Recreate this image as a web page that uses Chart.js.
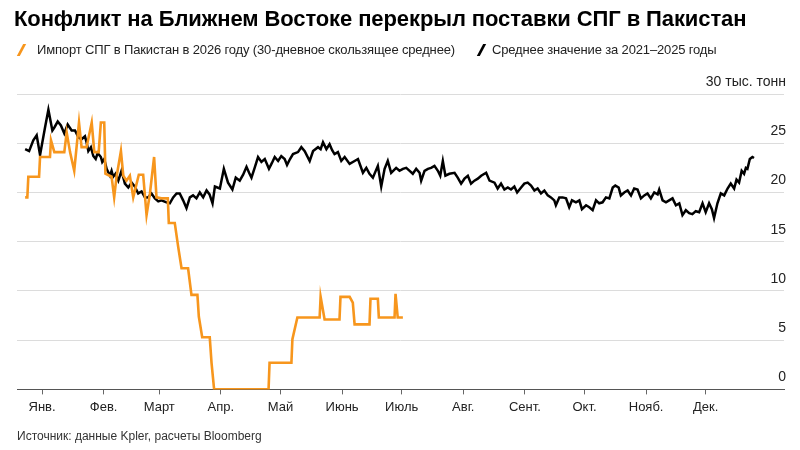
<!DOCTYPE html>
<html>
<head>
<meta charset="utf-8">
<script src="https://cdn.jsdelivr.net/npm/chart.js@4.4.1/dist/chart.umd.min.js"></script>
<style>
  body { margin:0; background:#fff; font-family:'Liberation Sans', Arial, sans-serif; }
  #wrap { position:relative; width:800px; height:450px; overflow:hidden; }
  #c { position:absolute; left:0; top:0; }
  .txt { position:absolute; white-space:nowrap; color:#222; }
  #title { left:14px; top:6px; font-weight:bold; font-size:22px; letter-spacing:-0.1px; color:#000; }
  .leg { top:42px; font-size:13px; letter-spacing:-0.15px; }
  .mark { position:absolute; top:44px; width:3px; height:12px; transform:skewX(-28deg); }
  #source { left:17px; top:429px; font-size:12px; color:#333; }
</style>
</head>
<body>
<div id="wrap">
  <canvas id="c" width="800" height="450"></canvas>
  <div id="title" class="txt">Конфликт на Ближнем Востоке перекрыл поставки СПГ в Пакистан</div>
  <span class="mark" style="left:20px;background:#f7961d"></span>
  <div class="txt leg" style="left:37px">Импорт СПГ в Пакистан в 2026 году (30-дневное скользящее среднее)</div>
  <span class="mark" style="left:480px;background:#000"></span>
  <div class="txt leg" style="left:492px">Среднее значение за 2021–2025 годы</div>
  <div id="source" class="txt">Источник: данные Kpler, расчеты Bloomberg</div>
</div>
<script>
// подписи месяцев и их первые дни (день 0 = 1 января)
var monthLabels = ['Янв.','Фев.','Март','Апр.','Май','Июнь','Июль','Авг.','Сент.','Окт.','Нояб.','Дек.'];
var monthStartDays = [0,31,59,90,120,151,181,212,243,273,304,334];
var yTicks = [0,5,10,15,20,25,30];

// импорт СПГ в 2026 г., тыс. тонн (30-дн. скользящее)
var importDays = [-8.5,-7.4,-6.9,-1.5,-1,4,4.5,6.2,11.2,12.4,14.1,16.2,18.6,19.9,22.4,25,26.3,28.5,29.6,31.3,31.9,35,36.3,37.5,39.7,40.9,42.5,44.2,45.9,48.7,50.9,52.6,54.3,56.4,57.6,60.1,62.7,63.3,63.8,66.8,68.5,70.2,73.5,75.2,78.2,78.9,80.6,84.4,85.3,86.6,114,114.5,125.5,126,128.5,139.7,140.2,142.2,149.7,150.2,154.8,156.4,157.3,164.8,165.3,169,169.5,177.4,177.9,179,181.6];
var importValues = [19.5,19.5,21.6,21.6,23.6,23.6,25.3,24.1,24.1,26.1,24.1,22.2,27.1,24.6,24.6,27.1,24.1,24.1,27.1,27.1,21.9,21.6,19.5,21.6,24.2,21.7,21.2,21.7,19.5,21.8,21.8,17.7,19.9,23.6,19.5,19.4,19.4,19.4,16.9,16.9,14.5,12.3,12.3,9.6,9.6,7.4,5.3,5.3,2.7,0,0,2.7,2.7,5.1,7.3,7.3,9.4,7.1,7.1,9.4,9.4,8.8,6.6,6.6,9.2,9.2,7.3,7.3,9.7,7.3,7.3];

// среднее за 2021-2025
var avgDays = [-8.5,-6.5,-4.4,-2.7,-1,1.5,3.2,5.2,6.2,7.9,9.5,11.2,12.9,14.9,16.6,18.3,19.9,21.6,22.4,23.3,24.6,25.8,27,28,29.6,30.3,31.3,32.5,34.2,35,35.8,37,38.4,40,41.7,43.4,45.1,46.7,48.4,50.1,51.8,53.4,55.1,56.8,58.5,60.1,62.6,64.3,66,67.7,69.3,71,72.7,74.4,76,77.7,79.4,81.1,82.8,84.3,85.8,87,89.5,91.5,93.6,95.8,97.5,99.5,101.2,102.9,104.2,105.4,107,108.7,110.4,112.1,114.2,115.7,117.1,118.8,120.4,122.1,123.3,124.8,126.3,128.8,130.5,132.2,134.7,136.4,138.9,140.2,141.4,143.1,144.7,146,147.2,148.9,150.6,152.3,154.8,157.3,159,161.5,163.2,164.8,166.5,169,170.7,172.4,174,175.7,178.2,179.9,181.6,183.3,185,186.6,188.3,190,190.8,192.5,194.2,195.8,197.5,199.2,200.4,201.7,203,205,207.6,209.2,210.9,212.6,214.3,215.9,217.6,219.3,221,223.5,225.2,227.7,229.3,231,232.7,234.4,236,237.7,239.1,241.1,242.7,244.4,246.1,247.8,249.4,251.1,252.8,254.5,256.1,257.8,258.6,260.3,262,263.7,265.3,266.7,268.7,270.4,271.7,273.8,275.4,277.1,278.8,280.4,282.1,283.8,285.5,287.2,288.5,290.2,291.3,293,294.7,296.4,298,299.7,301.4,303.1,304.7,306.4,308.1,309.8,310.6,312.3,314,315.6,317.3,319,320.7,322.3,324,325.7,327.3,329,330.7,332.4,334,335.7,337.1,338.2,339.9,341.6,343.3,345,346.6,348.3,349.5,350.8,352.1,353.3,354.2,355,356.2,357.5,358.3];
var avgValues = [24.4,24.2,25.3,25.8,23.8,26.6,28.4,26.3,26.6,27.2,26.8,26,26.9,26.3,26.3,25.6,25.4,25.7,25.1,24.2,24.6,23.7,23.4,24,23.6,23.1,23.4,22.4,21.7,22.2,21.6,21.9,21.2,22.2,20.9,20.5,21,20.6,19.9,20.1,19.5,19.5,19.9,19.4,19.1,19.2,19,18.9,19.5,19.9,19.9,19.2,18.4,19.5,19.7,19.4,20,19.5,20.2,19.8,18.9,20.6,20.4,22.4,21,20.3,21.5,21.2,21.8,22.6,22,21.5,22.5,23.6,23.1,23.4,22.4,23,23.6,23.2,23.7,23.4,22.8,23.4,23.9,24.1,24.6,24.2,23.2,24.2,24.6,24.4,25.1,24.4,24.9,24.3,23.9,24.1,23.2,23.6,22.9,23.2,23.4,22,22.5,21.9,21.5,22.7,20.6,22.4,23.2,22,22.5,22.2,22.4,22.5,22.2,21.9,22.4,22,21.2,22.2,22.4,22.5,22.7,22.2,21.7,23.2,21.7,21.9,22,21.5,20.9,21.4,21.7,20.9,21.2,21.4,21.7,22,21.2,21,20.4,20.9,20.3,20.5,20.3,20.6,20,20.5,20.9,21,20.7,20.2,20.4,19.9,20.2,19.7,19.5,19.2,18.7,19.5,19.5,19.4,18.5,19.2,19,19.2,18.3,18.7,18.5,18.2,19.2,18.9,19,19.5,19.4,20.5,20.7,20.5,19.7,20,20.2,19.7,20.4,20.3,19.4,19.7,19.9,19.4,20,19.8,20.3,19.2,19,19.2,19.4,18.7,18.9,17.7,18.2,17.9,17.8,18.1,18,18.9,18,18.9,18.3,17.4,18.9,19.9,19.7,20.4,20.9,20.4,21.3,21,22.2,21.9,22.5,22.4,23.4,23.6,23.5];

function toPoints(days, vals){
    var pts = [];
    for (var i = 0; i < days.length; i++) pts.push({x: days[i], y: vals[i]});
    return pts;
}

new Chart(document.getElementById('c'), {
    type: 'line',
    data: {
        datasets: [{
            label: 'Импорт СПГ в Пакистан в 2026 году',
            data: toPoints(importDays, importValues),
            borderColor: '#f7961d',
            borderWidth: 2.6,
            pointRadius: 0,
            tension: 0
        },{
            label: 'Среднее значение за 2021–2025 годы',
            data: toPoints(avgDays, avgValues),
            borderColor: '#000',
            borderWidth: 2.5,
            pointRadius: 0,
            tension: 0
        }]
    },
    options: {
        responsive: false,
        animation: false,
        layout: { padding: { left: 17, right: 12, top: 94, bottom: 30 } },
        plugins: { legend: { display: false }, tooltip: { enabled: false } },
        scales: {
            x: {
                type: 'linear',
                min: -12.6,
                max: 373.4,
                afterBuildTicks: function(axis){
                    axis.ticks = monthStartDays.map(function(d){ return {value: d}; });
                },
                grid: { drawOnChartArea: false, drawTicks: true, tickLength: 5, color: '#666' },
                border: { display: true, color: '#555', width: 1 },
                ticks: {
                    autoSkip: false, maxRotation: 0, padding: 5,
                    color: '#222',
                    font: { family: 'Liberation Sans', size: 13 },
                    callback: function(v, i){ return monthLabels[i]; }
                }
            },
            y: {
                position: 'right',
                min: 0,
                max: 30,
                afterBuildTicks: function(axis){
                    axis.ticks = yTicks.map(function(v){ return {value: v}; });
                },
                grid: { color: '#dcdcdc', lineWidth: 1, drawTicks: false },
                border: { display: false },
                ticks: {
                    mirror: true, padding: 2, labelOffset: -12,
                    color: '#222',
                    font: { family: 'Liberation Sans', size: 14 },
                    callback: function(v){ return v === 30 ? '30 тыс. тонн' : v; }
                }
            }
        }
    }
});
</script>
</body>
</html>
